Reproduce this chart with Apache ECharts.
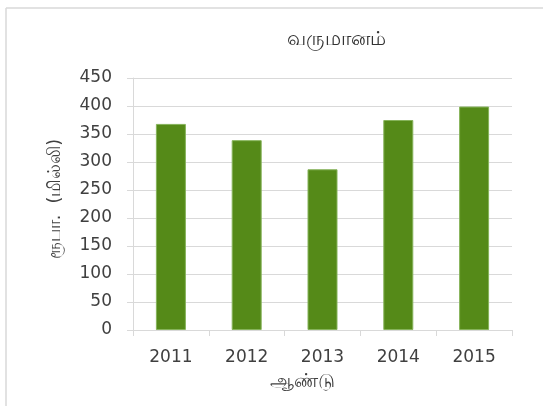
<!DOCTYPE html>
<html>
<head>
<meta charset="utf-8">
<script src="https://cdn.jsdelivr.net/npm/echarts@6/dist/echarts.min.js"></script>
<style>
html,body{margin:0;padding:0;background:#fff;}
#chart{width:543px;height:406px;}
</style>
</head>
<body>
<div id="chart"></div>
<script>
const categories = ['2011', '2012', '2013', '2014', '2015'];
const revenue = [368, 339, 287, 375, 399];
const yTicks = [0, 50, 100, 150, 200, 250, 300, 350, 400, 450];
const titleText = 'வருமானம்';
const xName = 'ஆண்டு';
const yName = 'ரூபா.  (மில்லி)';

const chart = echarts.init(document.getElementById('chart'), null, {renderer: 'canvas'});
const font = 'DejaVu Sans, Noto Sans, sans-serif';
chart.setOption({
  animation: false,
  backgroundColor: '#ffffff',
  grid: {left: 133, right: 31, top: 78, bottom: 76, containLabel: false},
  xAxis: {
    type: 'category',
    data: categories,
    axisLine: {show: true, lineStyle: {color: '#d9d9d9', width: 1}},
    axisTick: {show: true, length: 6, lineStyle: {color: '#d9d9d9'}},
    axisLabel: {color: '#404040', fontSize: 17, fontFamily: font, margin: 19}
  },
  yAxis: {
    type: 'value',
    min: yTicks[0],
    max: yTicks[yTicks.length - 1],
    interval: yTicks[1] - yTicks[0],
    axisLine: {show: true, lineStyle: {color: '#d9d9d9', width: 1}},
    axisTick: {show: true, length: 6, lineStyle: {color: '#d9d9d9'}},
    splitLine: {show: true, lineStyle: {color: '#d9d9d9', width: 1}},
    axisLabel: {color: '#404040', fontSize: 17, fontFamily: font, margin: 21}
  },
  series: [{
    type: 'bar',
    data: revenue,
    barWidth: 30,
    itemStyle: {color: '#558a18', borderColor: '#86b35a', borderWidth: 1}
  }],
  graphic: [
    {type: 'line', shape: {x1: 6, y1: 8, x2: 543, y2: 8}, style: {stroke: '#d9d9d9', lineWidth: 1.5}},
    {type: 'line', shape: {x1: 6, y1: 8, x2: 6, y2: 406}, style: {stroke: '#d9d9d9', lineWidth: 1.5}},
    {type: 'text', x: 336, y: 40, style: {text: titleText, fontSize: 20, fill: '#333333', fontFamily: font, align: 'center', verticalAlign: 'middle'}},
    {type: 'text', x: 302, y: 382, style: {text: xName, fontSize: 19, fill: '#404040', fontFamily: font, align: 'center', verticalAlign: 'middle'}},
    {type: 'text', x: 55, y: 199, rotation: Math.PI / 2, style: {text: yName, fontSize: 17.5, fill: '#404040', fontFamily: font, align: 'center', verticalAlign: 'middle'}}
  ]
});
</script>
</body>
</html>
